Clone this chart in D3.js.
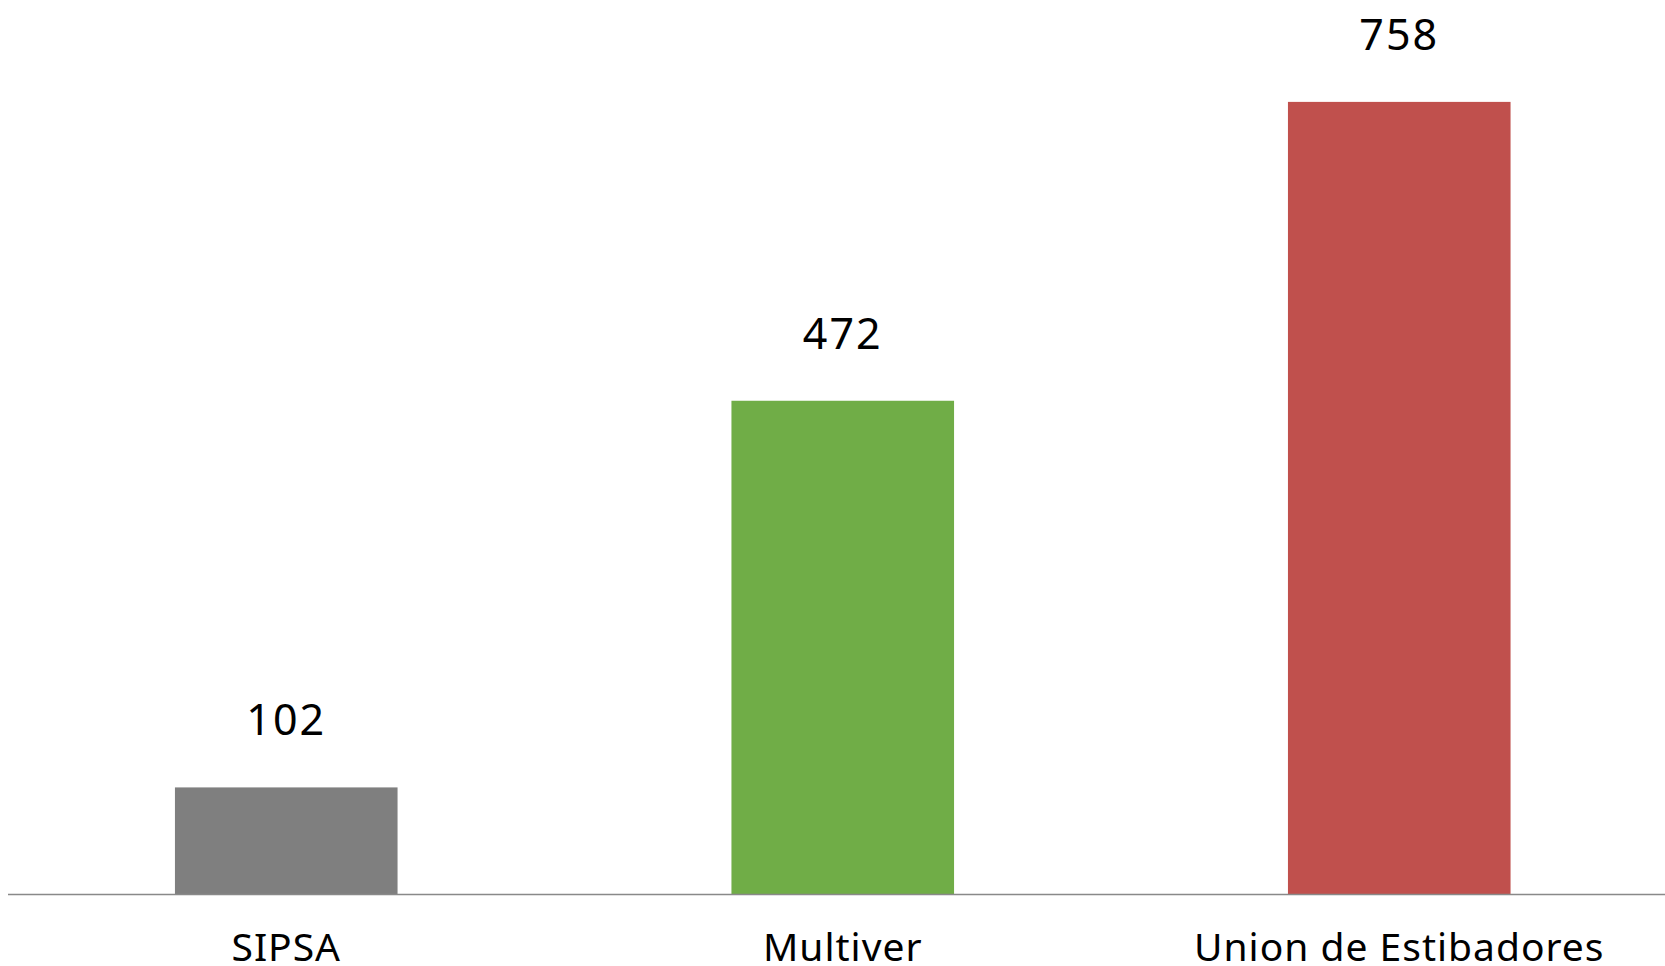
<!DOCTYPE html>
<html>
<head>
<meta charset="utf-8">
<script src="https://cdn.jsdelivr.net/npm/d3@7"></script>
<style>
    html, body { margin: 0; padding: 0; background: #fff; }
    svg { display: block; }
    text { font-family: "Noto Sans", sans-serif; fill: #000; }
</style>
</head>
<body>
<div id="chart"></div>
<script>
const categories = ['SIPSA', 'Multiver', 'Union de Estibadores'];
const values = [102, 472, 758];
const colors = ['#7f7f7f', '#70ad47', '#c0504d'];

const WIDTH = 1665, HEIGHT = 966;
const BASE_Y = 894;

const svg = d3.select('#chart').append('svg')
    .attr('width', WIDTH)
    .attr('height', HEIGHT);

const x = d3.scaleBand()
    .domain(categories)
    .range([8, 8 + 3 * 556.5])
    .paddingInner(0.6)
    .paddingOuter(0.3);

const y = d3.scaleLinear()
    .domain([0, 800])
    .range([BASE_Y, BASE_Y - 836]);

const rows = categories.map((c, i) => ({ name: c, value: values[i], color: colors[i] }));

svg.append('g')
    .selectAll('rect')
    .data(rows)
    .join('rect')
    .attr('x', d => x(d.name))
    .attr('y', d => y(d.value))
    .attr('width', x.bandwidth())
    .attr('height', d => y(0) - y(d.value))
    .attr('fill', d => d.color);

// baseline
svg.append('line')
    .attr('x1', 8).attr('x2', WIDTH)
    .attr('y1', y(0) + 0.5).attr('y2', y(0) + 0.5)
    .attr('stroke', '#898989')
    .attr('stroke-width', 1.3);

// value labels
svg.append('g')
    .selectAll('text')
    .data(rows)
    .join('text')
    .attr('x', d => x(d.name) + x.bandwidth() / 2)
    .attr('y', d => y(d.value) - 52)
    .attr('text-anchor', 'middle')
    .style('font-size', '43px')
    .style('letter-spacing', '2px')
    .text(d => d.value);

// category labels
svg.append('g')
    .selectAll('text')
    .data(rows)
    .join('text')
    .attr('x', d => x(d.name) + x.bandwidth() / 2)
    .attr('y', 961)
    .attr('text-anchor', 'middle')
    .style('font-size', '39px')
    .style('letter-spacing', '1px')
    .text(d => d.name);
</script>
</body>
</html>
